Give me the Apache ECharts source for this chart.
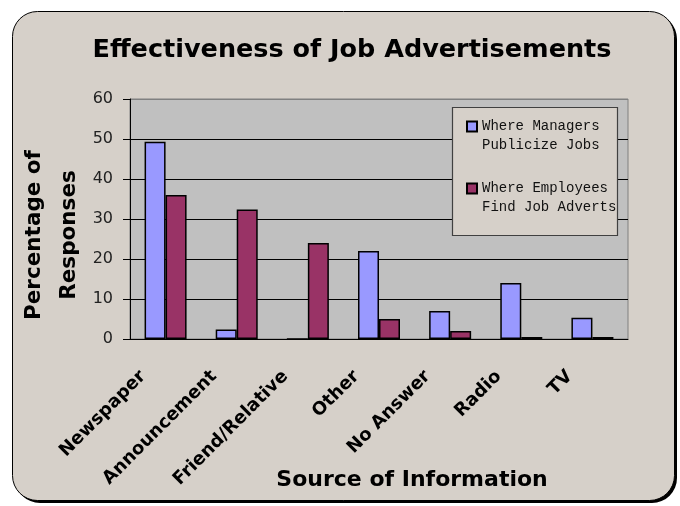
<!DOCTYPE html>
<html>
<head>
<meta charset="utf-8">
<script src="https://cdn.jsdelivr.net/npm/echarts@6/dist/echarts.min.js"></script>
<style>
  html, body { margin: 0; padding: 0; background: #fff; }
  #chart { width: 680px; height: 506px; }
</style>
</head>
<body>
<div id="chart"></div>
<script>
const categories = ["Newspaper", "Announcement", "Friend/Relative", "Other", "No Answer", "Radio", "TV"];
const managers = [49.3, 2.4, 0, 22, 7, 14, 5.3];
const employees = [36, 32.4, 24, 5, 2, 0.5, 0.5];
const yTicks = { min: 0, max: 60, interval: 10 };

const BG = "#D6D0C9";
const FONT = "DejaVu Sans";

const chart = echarts.init(document.getElementById("chart"), null, { renderer: "canvas" });

chart.setOption({
  backgroundColor: "#fff",
  animation: false,
  graphic: [
    {
      // drop shadow of the frame
      type: "rect",
      z: -11,
      shape: { x: 15, y: 14, width: 662, height: 489, r: 25 },
      style: { fill: "#000" }
    },
    {
      type: "rect",
      z: -10,
      shape: { x: 12.5, y: 11.5, width: 662, height: 489, r: 25 },
      style: { fill: BG, stroke: "#000", lineWidth: 1 }
    },
    {
      // legend box
      type: "rect",
      z: 3,
      shape: { x: 452.5, y: 107.5, width: 165, height: 128 },
      style: { fill: BG, stroke: "#404040", lineWidth: 1.2 }
    }
  ],
  title: {
    text: "Effectiveness of Job Advertisements",
    left: 352,
    textAlign: "center",
    top: 37,
    padding: 0,
    textStyle: { fontFamily: FONT, fontWeight: "bold", fontSize: 25.5, color: "#000" }
  },
  legend: {
    orient: "vertical",
    left: 466,
    top: 98,
    padding: 0,
    itemGap: 5,
    itemWidth: 10,
    itemHeight: 10,
    itemTextGap: 4,
    icon: "rect",
    z: 6,
    formatter: (name) => "\n" + name,
    textStyle: {
      fontFamily: "Liberation Mono",
      fontSize: 14,
      lineHeight: 19,
      color: "#111"
    },
    data: ["Where Managers\nPublicize Jobs", "Where Employees\nFind Job Adverts"]
  },
  grid: {
    left: 130,
    right: 52,
    top: 99,
    bottom: 167,
    outerBoundsMode: "none",
    show: true,
    backgroundColor: "#C0C0C0",
    borderColor: "#808080",
    borderWidth: 1
  },
  xAxis: {
    type: "category",
    data: categories,
    axisLine: { lineStyle: { color: "#000", width: 1 } },
    axisTick: { length: 7, lineStyle: { color: "#000" } },
    axisLabel: {
      rotate: 45,
      interval: 0,
      margin: 12,
      padding: [0, 32, 0, 0],
      fontFamily: FONT,
      fontWeight: "bold",
      fontSize: 18,
      color: "#000"
    },
    name: "Source of Information",
    nameLocation: "middle",
    nameGap: 130,
    nameMoveOverlap: false,
    nameTextStyle: {
      fontFamily: FONT,
      fontWeight: "bold",
      fontSize: 22,
      color: "#000",
      padding: [0, 0, 0, 66]
    }
  },
  yAxis: {
    type: "value",
    min: yTicks.min,
    max: yTicks.max,
    interval: yTicks.interval,
    axisLine: { show: true, lineStyle: { color: "#000" } },
    axisTick: { show: true, length: 7, lineStyle: { color: "#000" } },
    axisLabel: { margin: 17, fontFamily: FONT, fontSize: 16, color: "#222" },
    splitLine: {
      lineStyle: { color: ["#000", "#000", "#000", "#000", "#000", "#000", "#808080"], width: 1 }
    },
    name: "Percentage of\nResponses",
    nameLocation: "middle",
    nameRotate: 90,
    nameGap: 43,
    nameMoveOverlap: false,
    nameTextStyle: {
      fontFamily: FONT,
      fontWeight: "bold",
      fontSize: 21.5,
      lineHeight: 35,
      color: "#000",
      padding: [0, 32, 0, 0]
    }
  },
  series: [
    {
      name: "Where Managers\nPublicize Jobs",
      type: "bar",
      barWidth: 21,
      barGap: "0%",
      itemStyle: { color: "#9999FF", borderColor: "#000", borderWidth: 1.5 },
      data: managers
    },
    {
      name: "Where Employees\nFind Job Adverts",
      type: "bar",
      barWidth: 21,
      barGap: "0%",
      itemStyle: { color: "#993366", borderColor: "#000", borderWidth: 1.5 },
      data: employees
    }
  ]
});
</script>
</body>
</html>
